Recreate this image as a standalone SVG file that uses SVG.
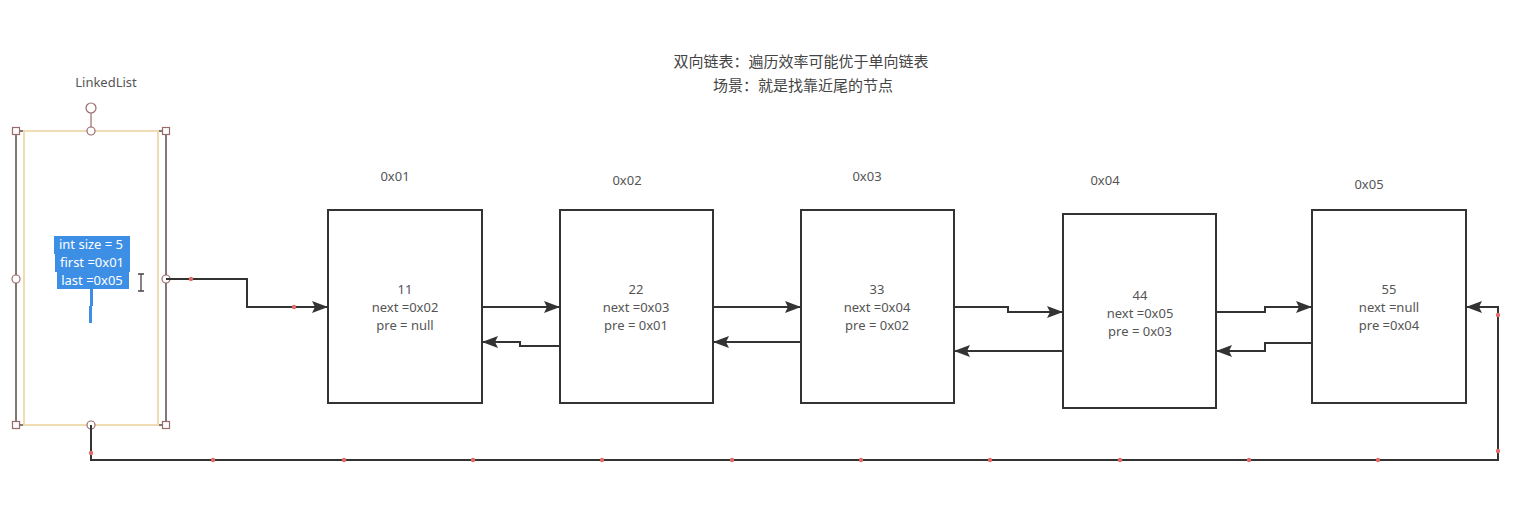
<svg xmlns="http://www.w3.org/2000/svg" width="1526" height="532" viewBox="0 0 1526 532">
  <defs>
    <marker id="arrow" markerWidth="16" markerHeight="12" refX="15" refY="6" orient="auto" markerUnits="userSpaceOnUse">
      <path d="M0,0 L16,6 L0,12 L3,6 Z" fill="#333"/>
    </marker>
    <style>
      .box { fill: #fff; stroke: #333; stroke-width: 2; }
      .lbl { font-family: "Noto Sans", "Noto Sans CJK SC", sans-serif; font-size: 13px; fill: #555; text-anchor: middle; }
      .title { font-family: "Noto Sans CJK SC", "Noto Sans", sans-serif; font-size: 15px; fill: #444; text-anchor: middle; }
      .sel { font-family: "Noto Sans", sans-serif; font-size: 13px; fill: #fff; text-anchor: middle; }
      .wire { fill: none; stroke: #333; stroke-width: 2; }
      .pt { fill: #e26a6a; }
      .handle { fill: #fff; stroke: #9b6b6b; stroke-width: 1.2; }
    </style>
  </defs>
  <rect width="1526" height="532" fill="#fff"/>

  <!-- heading -->
  <g id="title">
    <text class="title" x="801" y="67">双向链表：遍历效率可能优于单向链表</text>
    <text class="title" x="803" y="91">场景：就是找靠近尾的节点</text>
  </g>

  <!-- LinkedList holder (selected, editing) -->
  <g id="linkedlist">
    <text class="lbl" x="106" y="87">LinkedList</text>
    <rect x="16" y="131" width="150" height="294" fill="#fff" stroke="#5a4a4a" stroke-width="1.5"/>
    <rect x="24" y="131" width="134" height="294" fill="none" stroke="#f0dcb2" stroke-width="2"/>
    <rect x="54" y="236" width="76" height="18" fill="#3d8fe6"/>
    <rect x="55" y="254" width="75" height="18" fill="#3d8fe6"/>
    <rect x="57" y="272" width="72" height="17" fill="#3d8fe6"/>
    <text class="sel" x="91" y="249">int size = 5</text>
    <text class="sel" x="92" y="267">first =0x01</text>
    <text class="sel" x="92" y="285">last =0x05</text>
    <path d="M91.5,289 V306 M90.5,306 V323" stroke="#3d8fe6" stroke-width="3"/>
    <path d="M138,274 H144 M141,274 V291 M138,291 H144" stroke="#444" stroke-width="1.3" fill="none"/>
    <line x1="91" y1="113" x2="91" y2="131" stroke="#9b6b6b" stroke-width="1.2"/>
    <circle class="handle" cx="91" cy="108" r="5"/>
    <rect class="handle" x="12.5" y="127.5" width="7" height="7"/>
    <rect class="handle" x="162.5" y="127.5" width="7" height="7"/>
    <rect class="handle" x="12.5" y="421.5" width="7" height="7"/>
    <rect class="handle" x="162.5" y="421.5" width="7" height="7"/>
    <circle class="handle" cx="91" cy="131" r="4"/>
    <circle class="handle" cx="16" cy="279" r="4"/>
    <circle class="handle" cx="166" cy="279" r="4"/>
    <circle class="handle" cx="91" cy="425" r="4"/>
  </g>

  <!-- list nodes -->
  <g id="node1">
    <text class="lbl" x="395" y="181">0x01</text>
    <rect class="box" x="328" y="210" width="154" height="193"/>
    <text class="lbl" x="405" y="294">11</text>
    <text class="lbl" x="405" y="312">next =0x02</text>
    <text class="lbl" x="405" y="330">pre = null</text>
  </g>
  <g id="node2">
    <text class="lbl" x="627" y="185">0x02</text>
    <rect class="box" x="560" y="210" width="153" height="193"/>
    <text class="lbl" x="636" y="294">22</text>
    <text class="lbl" x="636" y="312">next =0x03</text>
    <text class="lbl" x="636" y="330">pre = 0x01</text>
  </g>
  <g id="node3">
    <text class="lbl" x="867" y="181">0x03</text>
    <rect class="box" x="801" y="210" width="153" height="193"/>
    <text class="lbl" x="877" y="294">33</text>
    <text class="lbl" x="877" y="312">next =0x04</text>
    <text class="lbl" x="877" y="330">pre = 0x02</text>
  </g>
  <g id="node4">
    <text class="lbl" x="1105" y="185">0x04</text>
    <rect class="box" x="1063" y="214" width="153" height="194"/>
    <text class="lbl" x="1140" y="300">44</text>
    <text class="lbl" x="1140" y="318">next =0x05</text>
    <text class="lbl" x="1140" y="336">pre = 0x03</text>
  </g>
  <g id="node5">
    <text class="lbl" x="1369" y="189">0x05</text>
    <rect class="box" x="1312" y="210" width="154" height="193"/>
    <text class="lbl" x="1389" y="294">55</text>
    <text class="lbl" x="1389" y="312">next =null</text>
    <text class="lbl" x="1389" y="330">pre =0x04</text>
  </g>

  <!-- links -->
  <g id="connectors">
    <path class="wire" d="M166,279 H247 V307 H327" marker-end="url(#arrow)"/>
    <path class="wire" d="M482,307 H559" marker-end="url(#arrow)"/>
    <path class="wire" d="M560,346 H520 V342 H483" marker-end="url(#arrow)"/>
    <path class="wire" d="M713,307 H800" marker-end="url(#arrow)"/>
    <path class="wire" d="M801,342 H714" marker-end="url(#arrow)"/>
    <path class="wire" d="M954,307 H1008 V312 H1062" marker-end="url(#arrow)"/>
    <path class="wire" d="M1063,351 H955" marker-end="url(#arrow)"/>
    <path class="wire" d="M1216,312 H1265 V307 H1311" marker-end="url(#arrow)"/>
    <path class="wire" d="M1312,343 H1265 V351 H1217" marker-end="url(#arrow)"/>
    <path class="wire" d="M91,425 V460 H1498 V307 H1467" marker-end="url(#arrow)"/>
    <circle class="pt" cx="191" cy="279" r="2.2"/>
    <circle class="pt" cx="294" cy="307" r="2.2"/>
    <circle class="pt" cx="91" cy="453" r="2.2"/>
    <circle class="pt" cx="213" cy="460" r="2.2"/>
    <circle class="pt" cx="344" cy="460" r="2.2"/>
    <circle class="pt" cx="473" cy="460" r="2.2"/>
    <circle class="pt" cx="602" cy="460" r="2.2"/>
    <circle class="pt" cx="732" cy="460" r="2.2"/>
    <circle class="pt" cx="861" cy="460" r="2.2"/>
    <circle class="pt" cx="990" cy="460" r="2.2"/>
    <circle class="pt" cx="1120" cy="460" r="2.2"/>
    <circle class="pt" cx="1249" cy="460" r="2.2"/>
    <circle class="pt" cx="1378" cy="460" r="2.2"/>
    <circle class="pt" cx="1498" cy="451" r="2.2"/>
    <circle class="pt" cx="1498" cy="315" r="2.2"/>
  </g>
</svg>
